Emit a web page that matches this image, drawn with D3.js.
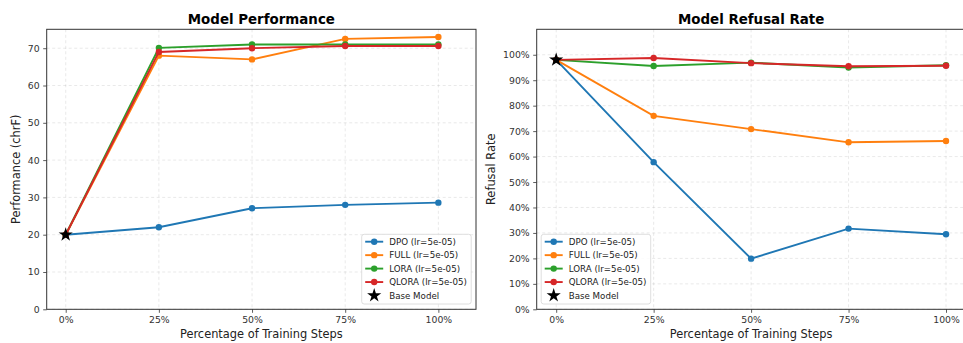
<!DOCTYPE html>
<html>
<head>
<meta charset="utf-8">
<script src="https://cdn.jsdelivr.net/npm/d3@7"></script>
<style>
  body { margin: 0; background: #fff; }
  svg { display: block; font-family: "DejaVu Sans", sans-serif; }
</style>
</head>
<body>
<div class="canvas"></div>
<script>
// training checkpoints (% of steps)
const steps = [0, 25, 50, 75, 100];
const stepLabels = ['0%', '25%', '50%', '75%', '100%'];

// Performance (chrF)
const perfDPO   = [20, 22, 27.1, 28.0, 28.6];
const perfFULL  = [20, 68.0, 67.0, 72.5, 73.0];
const perfLORA  = [20, 70.1, 71.0, 71.0, 71.0];
const perfQLORA = [20, 69.0, 70.0, 70.6, 70.6];
const perfBase  = 20;
const perfTicks = [0, 10, 20, 30, 40, 50, 60, 70];

// Refusal rate
const refDPO   = [0.98, 0.578, 0.199, 0.317, 0.295];
const refFULL  = [0.98, 0.760, 0.708, 0.656, 0.661];
const refLORA  = [0.98, 0.956, 0.969, 0.950, 0.959];
const refQLORA = [0.98, 0.987, 0.967, 0.955, 0.957];
const refBase  = 0.98;
const refTicks = [0, 0.1, 0.2, 0.3, 0.4, 0.5, 0.6, 0.7, 0.8, 0.9, 1.0];

const seriesNames = ['DPO (lr=5e-05)', 'FULL (lr=5e-05)', 'LORA (lr=5e-05)', 'QLORA (lr=5e-05)'];
const colors = ['#1f77b4', '#ff7f0e', '#2ca02c', '#d62728'];

const svg = d3.select('.canvas')
    .append('svg')
        .attr('width', 963)
        .attr('height', 343);

function drawPanel(opt) {
    const x = d3.scaleLinear().domain(opt.xDomain).range([opt.left, opt.left + opt.width]);
    const y = d3.scaleLinear().domain(opt.yDomain).range([opt.top + opt.height, opt.top]);

    const g = svg.append('g');

    // grid
    g.append('g').selectAll('line.gx')
        .data(steps).enter().append('line')
        .attr('x1', d => x(d)).attr('x2', d => x(d))
        .attr('y1', opt.top).attr('y2', opt.top + opt.height)
        .attr('stroke', '#b0b0b0').attr('stroke-opacity', 0.35)
        .attr('stroke-dasharray', '3,2.5').attr('stroke-width', 0.8);
    g.append('g').selectAll('line.gy')
        .data(opt.yTicks).enter().append('line')
        .attr('x1', opt.left).attr('x2', opt.left + opt.width)
        .attr('y1', d => y(d)).attr('y2', d => y(d))
        .attr('stroke', '#b0b0b0').attr('stroke-opacity', 0.35)
        .attr('stroke-dasharray', '3,2.5').attr('stroke-width', 0.8);

    // axes
    const xAxis = d3.axisBottom(x).tickValues(steps)
        .tickFormat((d, i) => stepLabels[i]).tickSize(3.5).tickPadding(3.5);
    const yAxis = d3.axisLeft(y).tickValues(opt.yTicks)
        .tickFormat(opt.yFormat).tickSize(3.5).tickPadding(3.5);

    const xg = g.append('g')
        .attr('transform', `translate(0,${opt.top + opt.height})`)
        .call(xAxis);
    const yg = g.append('g')
        .attr('transform', `translate(${opt.left},0)`)
        .call(yAxis);
    [xg, yg].forEach(a => {
        a.select('.domain').remove();
        a.selectAll('.tick line').attr('stroke', '#333').attr('stroke-width', 0.8);
        a.selectAll('.tick text').attr('fill', '#333')
            .style('font-size', '9.3px').style('font-family', '"DejaVu Sans"');
    });

    // frame
    g.append('rect')
        .attr('x', opt.left).attr('y', opt.top)
        .attr('width', opt.width).attr('height', opt.height)
        .attr('fill', 'none').attr('stroke', '#333').attr('stroke-width', 1);

    // lines
    const line = d3.line().x((d, i) => x(steps[i])).y(d => y(d));
    opt.series.forEach((vals, k) => {
        g.append('path')
            .datum(vals)
            .attr('d', line)
            .attr('fill', 'none')
            .attr('stroke', colors[k])
            .attr('stroke-width', 1.9);
        g.selectAll(null)
            .data(vals).enter().append('circle')
            .attr('cx', (d, i) => x(steps[i]))
            .attr('cy', d => y(d))
            .attr('r', 3.2)
            .attr('fill', colors[k]);
    });

    // base model star
    g.append('path')
        .attr('d', d3.symbol().type(d3.symbolStar).size(62)())
        .attr('transform', `translate(${x(0)},${y(opt.base)})`)
        .attr('fill', 'black');

    // titles
    g.append('text')
        .attr('x', opt.left + opt.width / 2).attr('y', 23.5)
        .attr('text-anchor', 'middle')
        .style('font-size', '13.4px').style('font-weight', 'bold')
        .text(opt.title);
    g.append('text')
        .attr('x', opt.left + opt.width / 2).attr('y', 338)
        .attr('text-anchor', 'middle').attr('fill', '#222')
        .style('font-size', '11.4px')
        .text('Percentage of Training Steps');
    g.append('text')
        .attr('transform', `translate(${opt.yLabelX},${opt.top + opt.height / 2}) rotate(-90)`)
        .attr('text-anchor', 'middle').attr('fill', '#222')
        .style('font-size', '11.4px')
        .text(opt.yLabel);

    // legend
    const lg = g.append('g').attr('transform', `translate(${opt.legendX},234.3)`);
    lg.append('rect')
        .attr('width', 109.5).attr('height', 69.7)
        .attr('rx', 2.5)
        .attr('fill', 'white').attr('fill-opacity', 0.85)
        .attr('stroke', '#d6d6d6').attr('stroke-width', 0.8);
    const rowY = i => 7.4 + i * 13.45;
    seriesNames.forEach((name, k) => {
        lg.append('line')
            .attr('x1', 3.5).attr('x2', 21.5)
            .attr('y1', rowY(k)).attr('y2', rowY(k))
            .attr('stroke', colors[k]).attr('stroke-width', 1.9);
        lg.append('circle')
            .attr('cx', 12.5).attr('cy', rowY(k)).attr('r', 3.2)
            .attr('fill', colors[k]);
        lg.append('text')
            .attr('x', 27.5).attr('y', rowY(k) + 3.1)
            .attr('fill', '#222')
            .style('font-size', '8.7px')
            .text(name);
    });
    lg.append('path')
        .attr('d', d3.symbol().type(d3.symbolStar).size(62)())
        .attr('transform', `translate(12.5,${rowY(4)})`)
        .attr('fill', 'black');
    lg.append('text')
        .attr('x', 27.5).attr('y', rowY(4) + 3.1)
        .attr('fill', '#222')
        .style('font-size', '8.7px')
        .text('Base Model');
}

drawPanel({
    left: 46.7, top: 29.3, width: 429.3, height: 280,
    xDomain: [-5.1, 110.1],
    yDomain: [0, 75.07],
    yTicks: perfTicks,
    yFormat: d3.format('d'),
    series: [perfDPO, perfFULL, perfLORA, perfQLORA],
    base: perfBase,
    title: 'Model Performance',
    yLabel: 'Performance (chrF)',
    yLabelX: 20,
    legendX: 361.7
});

drawPanel({
    left: 536.7, top: 29.3, width: 428.8, height: 280,
    xDomain: [-5, 105],
    yDomain: [0, 1.1],
    yTicks: refTicks,
    yFormat: d3.format('.0%'),
    series: [refDPO, refFULL, refLORA, refQLORA],
    base: refBase,
    title: 'Model Refusal Rate',
    yLabel: 'Refusal Rate',
    yLabelX: 495,
    legendX: 541.2
});
</script>
</body>
</html>
